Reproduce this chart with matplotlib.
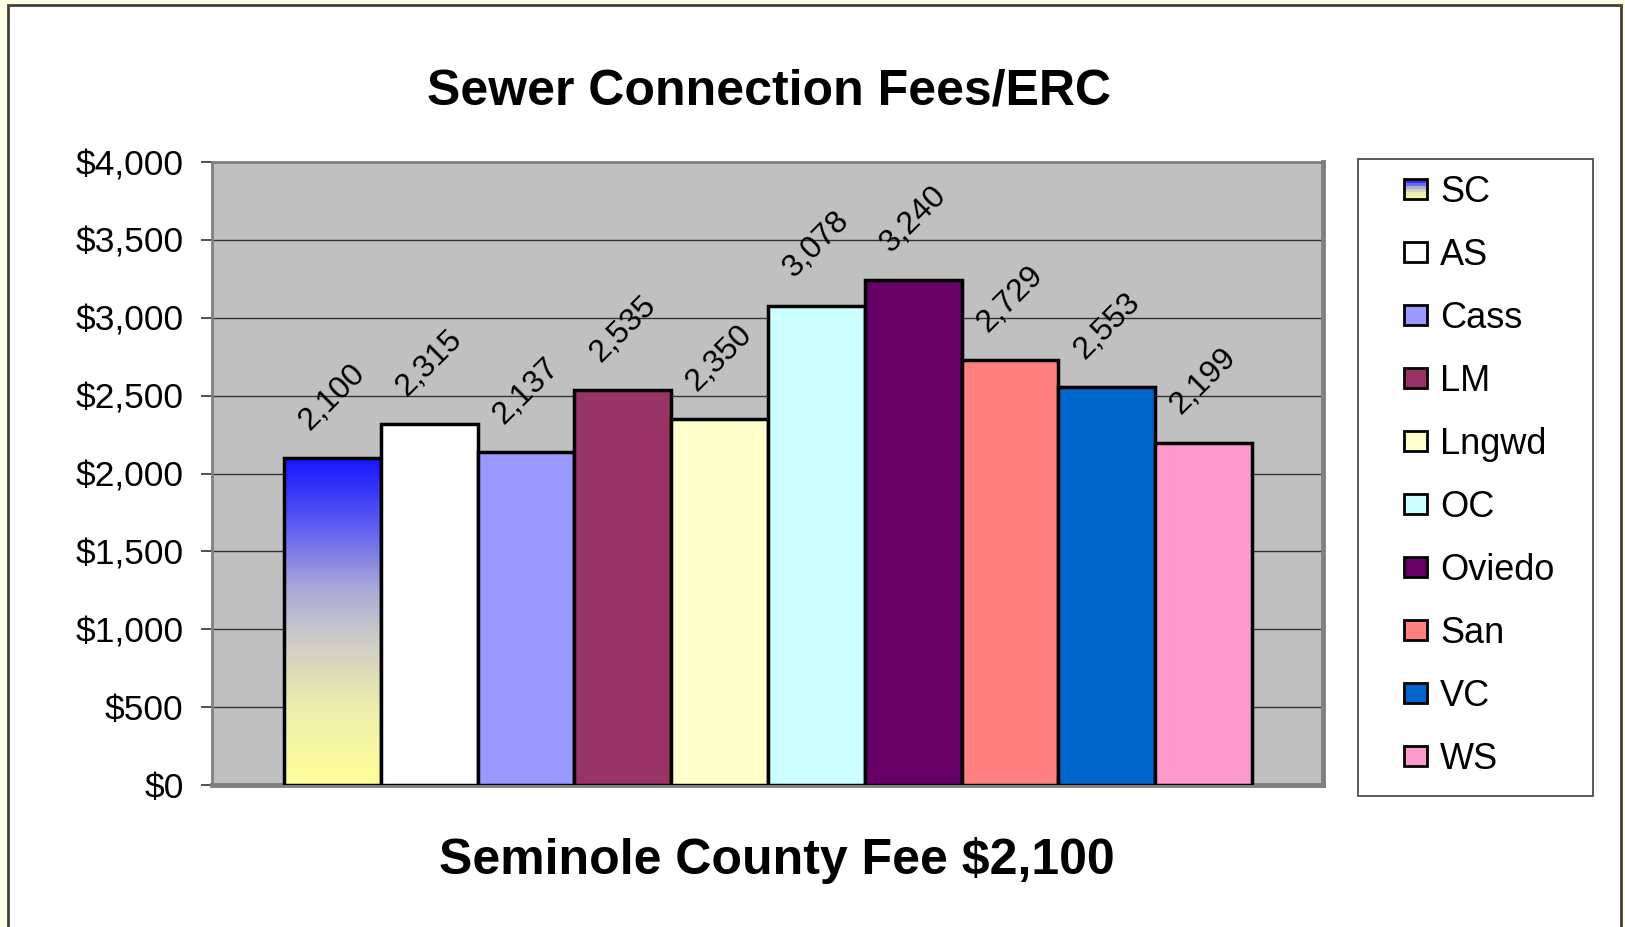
import matplotlib
matplotlib.use("Agg")
import matplotlib.pyplot as plt
import numpy as np
from matplotlib.patches import Rectangle, Patch
from matplotlib.colors import LinearSegmentedColormap
from matplotlib.legend_handler import HandlerBase
from matplotlib.ticker import FuncFormatter, MultipleLocator

plt.rcParams['font.family'] = ['Liberation Sans', 'DejaVu Sans']

# ---- data ----
categories = ["SC", "AS", "Cass", "LM", "Lngwd", "OC", "Oviedo", "San", "VC", "WS"]
fees = [2100, 2315, 2137, 2535, 2350, 3078, 3240, 2729, 2553, 2199]
colors = ["#3333ff", "#ffffff", "#9999ff", "#993366", "#ffffcc",
          "#ccffff", "#660066", "#ff8080", "#0066cc", "#ff99cc"]
title = "Sewer Connection Fees/ERC"
subtitle = "Seminole County Fee $2,100"

W, H = 1625, 927
fig = plt.figure(figsize=(W / 100, H / 100), dpi=100)
fig.patch.set_facecolor("#ffffe3")

# white panel with border
panel = Rectangle((8 / W, -0.05), (1621 - 8) / W, 1 - 5 / H + 0.05,
                  transform=fig.transFigure, facecolor="white",
                  edgecolor="#404040", linewidth=2, zorder=-10)
fig.patches.append(panel)

ax = fig.add_axes([212 / W, 1 - 785 / H, (1323 - 212) / W, (785 - 162) / H])
ax.set_zorder(2)
ax.set_facecolor("#c0c0c0")
x = np.arange(len(categories))
bars = ax.bar(x, fees, width=1.0, color=colors, edgecolor="black",
              linewidth=2.5, zorder=3)

# gradient for SC bar
grad_cmap = LinearSegmentedColormap.from_list(
    "scgrad",
    [(0.0, "#ffff99"), (0.25, "#ececae"), (0.45, "#cbcbc8"),
     (0.6, "#a9a9d9"), (0.8, "#5a5af2"), (1.0, "#1414ff")])
b0 = bars[0]
bx, bw = b0.get_x(), b0.get_width()
img = ax.imshow(np.linspace(0, 1, 256).reshape(-1, 1), cmap=grad_cmap,
                origin="lower", extent=(bx, bx + bw, 0, fees[0]),
                aspect="auto", zorder=2.9)
img.set_clip_path(b0)
b0.set_facecolor("none")

for xi, v in zip(x, fees):
    ax.annotate(f"{v:,}", (xi, v), xytext=(0, 44), textcoords="offset points",
                ha="center", va="center", rotation=45, fontsize=23,
                zorder=5)

ax.set_ylim(0, 4000)
ax.set_xlim(-1.244, 10.233)
ax.yaxis.set_major_locator(MultipleLocator(500))
ax.yaxis.set_major_formatter(FuncFormatter(lambda v, p: f"${v:,.0f}"))
ax.tick_params(axis="y", length=8, width=1.2, pad=12.5, labelsize=25.5,
               color="#333333")
ax.tick_params(axis="x", length=0, labelbottom=False)
ax.grid(axis="y", color="#333333", linewidth=1.0, zorder=1)
ax.set_axisbelow(True)
for s in ax.spines.values():
    s.set_color("#808080")
    s.set_linewidth(2)
ax.spines["right"].set_linewidth(3.5)
ax.spines["bottom"].set_linewidth(3.5)

fig.text(769 / W, 1 - 91 / H, title, ha="center", va="center",
         fontsize=36, fontweight="bold")
fig.text(777 / W, 1 - 860 / H, subtitle, ha="center", va="center",
         fontsize=36, fontweight="bold")

# legend frame
fig.patches.append(Rectangle((1358 / W, 1 - 796 / H), (1593 - 1358) / W,
                             (796 - 159) / H, transform=fig.transFigure,
                             facecolor="white", edgecolor="#404040",
                             linewidth=1.2, zorder=1))


class GradHandler(HandlerBase):
    def create_artists(self, legend, orig_handle, xdescent, ydescent,
                       width, height, fontsize, trans):
        arts = []
        n = 6
        for i in range(n):
            c = grad_cmap(1 - (i + 0.5) / n)
            r = Rectangle((-xdescent, -ydescent + height * (n - 1 - i) / n),
                          width, height / n, facecolor=c, edgecolor="none",
                          transform=trans)
            arts.append(r)
        arts.append(Rectangle((-xdescent, -ydescent), width, height,
                              facecolor="none", edgecolor="black",
                              linewidth=2, transform=trans))
        return arts


handles = [Patch(facecolor=c, edgecolor="black", linewidth=2) for c in colors]
leg = fig.legend(handles, categories, loc="upper left",
                 bbox_to_anchor=(1404 / W, 1 - 175 / H), frameon=False,
                 fontsize=26, borderpad=0, borderaxespad=0,
                 handlelength=0.64, handleheight=0.47, handletextpad=0.36,
                 labelspacing=0.775,
                 handler_map={handles[0]: GradHandler()})
leg.set_zorder(5)

fig.savefig("out.png", dpi=100, facecolor=fig.get_facecolor())
